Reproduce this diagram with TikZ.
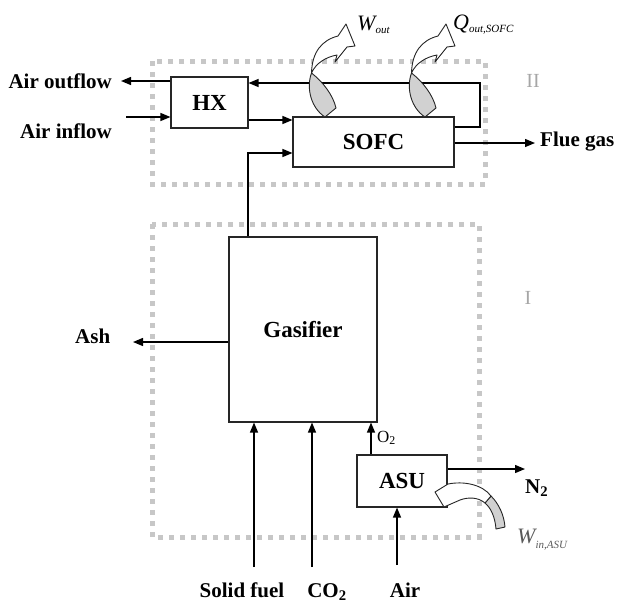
\documentclass[tikz,border=0pt]{standalone}
\usepackage{fontspec}
\setmainfont{Liberation Serif}
\usetikzlibrary{arrows.meta}
\begin{document}
\begin{tikzpicture}[x=1pt,y=-1pt,
  blk/.style={draw=black!85, line width=1.1pt, fill=white, inner sep=0pt,
    font=\fontsize{23}{26}\selectfont\bfseries},
  flow/.style={line width=1.3pt, -{Triangle[length=10pt,width=8pt]}},
  zone/.style={draw=black!22, line width=5pt, dash pattern=on 5pt off 6pt},
  lbl/.style={font=\fontsize{21}{25}\selectfont\bfseries, inner sep=0pt},
  zlbl/.style={font=\fontsize{20}{24}\selectfont, text=black!35, inner sep=0pt},
  ital/.style={font=\fontsize{22}{26}\selectfont\itshape, inner sep=0pt},
  ribbon/.style={draw=black!85, line width=0.9pt, fill=white, line join=round},
  ribbonback/.style={draw=black!85, line width=0.9pt, fill=black!18, line join=round},
  ]
\useasboundingbox (0,0) rectangle (617,605);

% zones
\draw[zone] (152,61) rectangle (485,184);
\draw[zone] (152,224) rectangle (479,537);
\node[zlbl, anchor=base] (zoneII) at (533,87) {II};
\node[zlbl, anchor=base] (zoneI) at (528,304) {I};

% blocks
\node[blk, minimum width=77pt, minimum height=51pt] (hx) at (209.5,102.5) {HX};
\node[blk, minimum width=161pt, minimum height=50pt] (sofc) at (373.5,142) {SOFC};
\node[blk, minimum width=148pt, minimum height=185pt] (gas) at (303,329.5) {Gasifier};
\node[blk, minimum width=90pt, minimum height=52pt] (asu) at (402,481) {ASU};

% labels
\node[lbl, anchor=base east] (airout) at (112,88) {Air outflow};
\node[lbl, anchor=base east] (airin) at (112,138) {Air inflow};
\node[lbl, anchor=base west] (flue) at (540,146) {Flue gas};
\node[lbl, anchor=base west] (ash) at (75,343) {Ash};
\node[lbl, anchor=base west] (n2) at (525,493) {N\textsubscript{2}};
\node[lbl, anchor=base] (solid) at (242,597) {Solid fuel};
\node[lbl, anchor=base] (co2) at (327,597) {CO\textsubscript{2}};
\node[lbl, anchor=base] (air) at (405,597) {Air};
\node[anchor=base west, inner sep=0pt, font=\fontsize{17}{20}\selectfont] (o2) at (377,442) {O\textsubscript{2}};

% free ends
\coordinate (aoEnd) at (121,81);
\coordinate (aiStart) at (126,117);
\coordinate (yHS) at (0,120);
\coordinate (gx) at (248,153);
\coordinate (rc) at (480,127);
\coordinate (rtop) at (480,83);
\coordinate (fg) at (535,143);
\coordinate (ashEnd) at (133,342);
\coordinate (sf) at (254,567);
\coordinate (cc) at (312,567);
\coordinate (o2x) at (371,455);
\coordinate (ax) at (397,565);
\coordinate (n2End) at (525,469);

% connectors
\draw[flow] (hx.west |- aoEnd) -- (aoEnd);
\draw[flow] (aiStart) -- (aiStart -| hx.west);
\draw[flow] (hx.east |- yHS) -- (sofc.west |- yHS);
\draw[flow] (gx |- gas.north) -- (gx) -- (gx -| sofc.west);
\draw[flow] (sofc.east |- rc) -- (rc) -- (rtop) -- (rtop -| hx.east);
\draw[flow] (sofc.east |- fg) -- (fg);
\draw[flow] (gas.west |- ashEnd) -- (ashEnd);
\draw[flow] (sf) -- (sf |- gas.south);
\draw[flow] (cc) -- (cc |- gas.south);
\draw[flow] (o2x |- asu.north) -- (o2x |- gas.south);
\draw[flow] (ax) -- (ax |- asu.south);
\draw[flow] (asu.east |- n2End) -- (n2End);

% curved energy arrows: W_out
\begin{scope}
\draw[ribbonback] (311.5,73) .. controls (306,88) and (311,108) .. (325,117)
   -- (336,108) .. controls (333,95) and (323,82) .. cycle;
\draw[ribbon] (311.5,73) .. controls (312,52) and (322,40) .. (338,36)
   -- (346,24) -- (355,46) -- (347,47) -- (335,62) -- (337,55)
   .. controls (326,57) and (316,63) .. cycle;
\end{scope}
% Q_out,SOFC
\begin{scope}[xshift=100pt]
\draw[ribbonback] (311.5,73) .. controls (306,88) and (311,108) .. (325,117)
   -- (336,108) .. controls (333,95) and (323,82) .. cycle;
\draw[ribbon] (311.5,73) .. controls (312,52) and (322,40) .. (338,36)
   -- (346,24) -- (355,46) -- (347,47) -- (335,62) -- (337,55)
   .. controls (326,57) and (316,63) .. cycle;
\end{scope}
% W_in,ASU
\draw[ribbonback] (491,496) .. controls (499,504) and (504,515) .. (505,527)
   -- (496,529) .. controls (495,517) and (491,508) .. (485,503) -- cycle;
\draw[ribbon] (435,492) -- (448,484) .. controls (463,481) and (482,484) .. (491,496)
   -- (485,503) .. controls (478,497) and (468,497) .. (460,500) -- (444,507) -- cycle;

% energy labels
\node[ital, anchor=base west] (wout) at (357,30) {W\raisebox{-3pt}{\fontsize{11}{12}\selectfont out}};
\node[ital, anchor=base west] (qout) at (453,29) {Q\raisebox{-3pt}{\fontsize{11}{12}\selectfont out,SOFC}};
\node[ital, anchor=base west, text=black!65] (win) at (517,543) {W\raisebox{-5pt}{\fontsize{11}{12}\selectfont in,ASU}};
\end{tikzpicture}
\end{document}
